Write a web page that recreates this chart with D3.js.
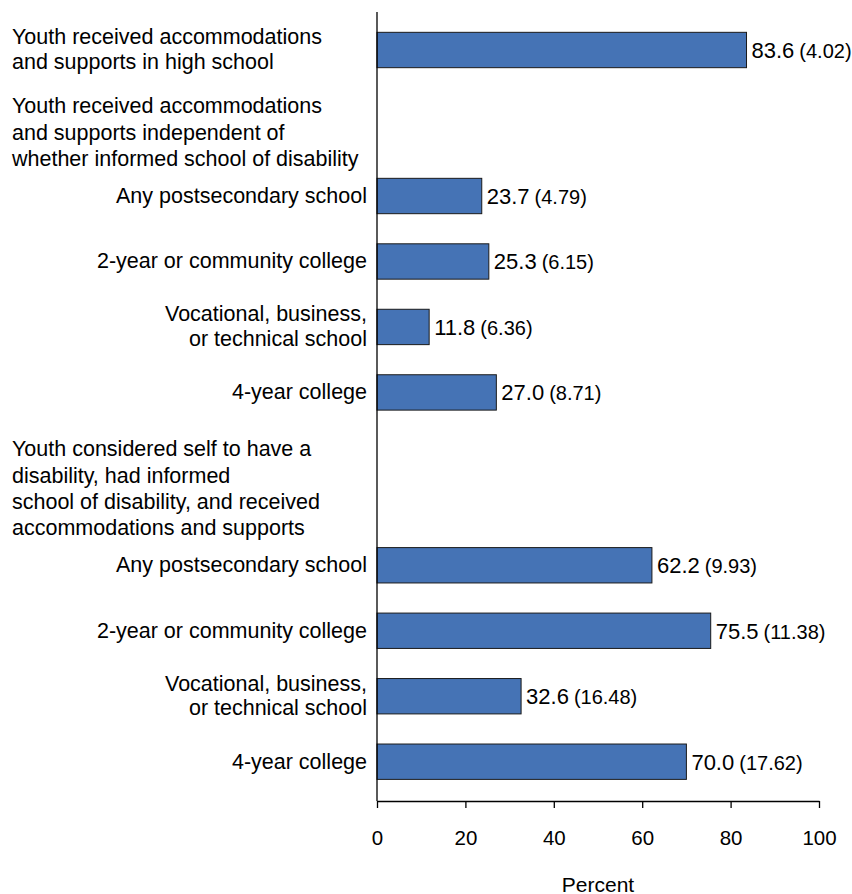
<!DOCTYPE html>
<html>
<head>
<meta charset="utf-8">
<script src="https://cdn.jsdelivr.net/npm/d3@7"></script>
<style>
  html, body { margin: 0; padding: 0; background: #fff; }
  svg { display: block; font-family: "Liberation Sans", Arial, Helvetica, sans-serif; }
</style>
</head>
<body>
<svg id="chart" width="852" height="894"></svg>
<script>
// ---- data ----
const barLabels = [
  ["Youth received accommodations", "and supports in high school"],
  ["Any postsecondary school"],
  ["2-year or community college"],
  ["Vocational, business,", "or technical school"],
  ["4-year college"],
  ["Any postsecondary school"],
  ["2-year or community college"],
  ["Vocational, business,", "or technical school"],
  ["4-year college"]
];
const labelKinds = ["header", "item", "item", "item", "item", "item", "item", "item", "item"];
const values = [83.6, 23.7, 25.3, 11.8, 27.0, 62.2, 75.5, 32.6, 70.0];
const standardErrors = ["4.02", "4.79", "6.15", "6.36", "8.71", "9.93", "11.38", "16.48", "17.62"];
const groupHeaderBefore = [1, 5];
const groupHeaders = [
  ["Youth received accommodations", "and supports independent of", "whether informed school of disability"],
  ["Youth considered self to have a", "disability, had informed", "school of disability, and received", "accommodations and supports"]
];
const xTicks = [0, 20, 40, 60, 80, 100];
const xTitle = "Percent";

// ---- layout ----
const svg = d3.select("#chart");
const axisX = 377, axisRight = 819, axisY = 801, axisTop = 12;
const headerLineWeight = 0.41;

// slot positions for each bar row
const slots = [];
let s = 0;
values.forEach((v, i) => {
  if (i > 0) s += 1;
  const h = groupHeaderBefore.indexOf(i);
  if (h >= 0) s += groupHeaders[h].length * headerLineWeight;
  slots.push(s);
});

const x = d3.scaleLinear().domain([0, 100]).range([axisX, axisRight]);
const y = d3.scaleLinear().domain([0, slots[slots.length - 1]]).range([50, 761.7]);
const barH = y(0.54) - y(0);

const blue = "#4573b5";

// bars
svg.append("g").selectAll("rect").data(values).join("rect")
  .attr("x", x(0))
  .attr("y", (d, i) => y(slots[i]) - barH / 2)
  .attr("width", d => x(d) - x(0))
  .attr("height", barH)
  .attr("fill", blue)
  .attr("stroke", "#1a1a1a")
  .attr("stroke-width", 1);

// value labels
const vl = svg.append("g").selectAll("text").data(values).join("text")
  .attr("x", d => x(d) + 5)
  .attr("y", (d, i) => y(slots[i]) + 7.8)
  .attr("font-size", 22)
  .attr("fill", "#000");
vl.append("tspan").text(d => d3.format(".1f")(d));
vl.append("tspan").attr("font-size", 20).attr("dx", 5).text((d, i) => "(" + standardErrors[i] + ")");

// category labels
const cl = svg.append("g").selectAll("text").data(barLabels).join("text")
  .attr("font-size", 21.5)
  .attr("fill", "#000")
  .attr("text-anchor", (d, i) => labelKinds[i] === "header" ? "start" : "end")
  .attr("x", (d, i) => labelKinds[i] === "header" ? 12 : 367);
cl.each(function(lines, i) {
  const cy = y(slots[i]);
  const n = lines.length;
  d3.select(this).selectAll("tspan").data(lines).join("tspan")
    .attr("x", labelKinds[i] === "header" ? 12 : 367)
    .attr("y", (l, j) => cy + 6.8 - 12.4 * (n - 1) + j * 24.8)
    .text(l => l);
});

// group headers
groupHeaders.forEach((lines, h) => {
  const next = y(slots[groupHeaderBefore[h]]);
  const n = lines.length;
  svg.append("text")
    .attr("font-size", 21.5)
    .attr("fill", "#000")
    .selectAll("tspan").data(lines).join("tspan")
    .attr("x", 12)
    .attr("y", (l, j) => next - 30 - (n - 1 - j) * 26.3)
    .text(l => l);
});

// vertical axis line
svg.append("line")
  .attr("x1", axisX).attr("x2", axisX)
  .attr("y1", axisTop).attr("y2", axisY)
  .attr("stroke", "#000").attr("stroke-width", 1.3);

// bottom axis
const gx = svg.append("g")
  .attr("transform", `translate(0,${axisY})`)
  .call(d3.axisBottom(x).tickValues(xTicks).tickSize(7).tickSizeOuter(0).tickPadding(22).tickFormat(d3.format("d")));
gx.selectAll("path, line").attr("stroke", "#000").attr("stroke-width", 1.3);
gx.selectAll("text").attr("font-size", 20.5).attr("fill", "#000")
  .attr("font-family", "'Liberation Sans', Arial, sans-serif");

// x title
svg.append("text")
  .attr("x", (x(0) + x(100)) / 2)
  .attr("y", 891.5)
  .attr("text-anchor", "middle")
  .attr("font-size", 21)
  .attr("fill", "#000")
  .text(xTitle);
</script>
</body>
</html>
